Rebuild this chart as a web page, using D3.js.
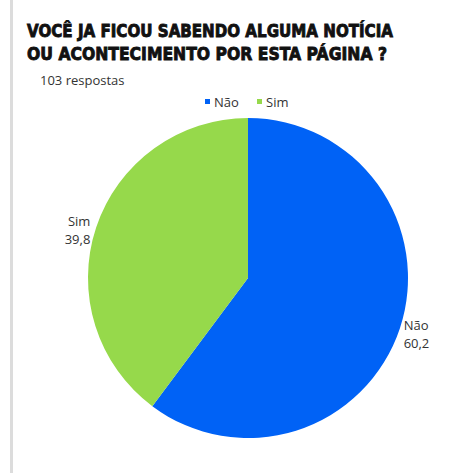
<!DOCTYPE html>
<html><head><meta charset="utf-8">
<script src="https://cdn.jsdelivr.net/npm/d3@7"></script>
<style>body{margin:0;background:#fff}svg{display:block}</style>
</head><body>
<script>
const categories = ["Não", "Sim"];
const values = [60.2, 39.8];
const labels = ["60,2", "39,8"];
const colors = ["#0062f6", "#96d94b"];
const titleLines = ["VOCÊ JA FICOU SABENDO ALGUMA NOTÍCIA", "OU ACONTECIMENTO POR ESTA PÁGINA ?"];
const subtitle = "103 respostas";

const W = 474, H = 473;
const svg = d3.select("body").append("svg").attr("width", W).attr("height", H);
svg.append("rect").attr("x", 10).attr("y", 0).attr("width", 3).attr("height", H).attr("fill", "#dcdcdc");

svg.selectAll("text.title").data(titleLines).join("text")
  .attr("x", 27).attr("y", (d, i) => 37 + i * 23)
  .attr("font-family", "'DejaVu Sans', sans-serif").attr("font-weight", 900)
  .attr("font-size", 17.5).attr("textLength", (d, i) => i ? 360 : 366).attr("lengthAdjust", "spacingAndGlyphs")
  .attr("fill", "#111").attr("stroke", "#111").attr("stroke-width", 0.9).text(d => d);

svg.append("text").attr("x", 40).attr("y", 85).attr("font-family", "'Open Sans', sans-serif")
  .attr("font-size", 13).attr("fill", "#333").text(subtitle);

const cx = 248, cy = 278, r = 160;
const pie = d3.pie().sort(null).value(d => d)(values);
const arc = d3.arc().innerRadius(0).outerRadius(r);
const g = svg.append("g").attr("transform", `translate(${cx},${cy})`);
g.selectAll("path").data(pie).join("path").attr("d", arc).attr("fill", (d, i) => colors[i]);

// legend
const leg = svg.append("g").attr("font-family", "'Open Sans', sans-serif").attr("font-size", 13).attr("fill", "#333");
const legX = [205, 257];
categories.forEach((c, i) => {
  leg.append("rect").attr("x", legX[i]).attr("y", 99).attr("width", 5).attr("height", 5).attr("fill", colors[i]);
  leg.append("text").attr("x", legX[i] + 9).attr("y", 107).text(c);
});

// slice labels
const lab = svg.append("g").attr("font-family", "'Open Sans', sans-serif").attr("font-size", 13).attr("fill", "#333");
pie.forEach((d, i) => {
  const mid = (d.startAngle + d.endAngle) / 2;
  const right = Math.sin(mid) > 0;
  const x = cx + Math.sin(mid) * (r + 4) + (right ? 0 : -2), y = cy - Math.cos(mid) * (r + 4);
  const t = lab.append("text").attr("text-anchor", right ? "start" : "end").attr("x", x).attr("y", y);
  t.append("tspan").attr("x", x).attr("dy", 0).text(categories[i]);
  t.append("tspan").attr("x", x).attr("dy", 18).text(labels[i]);
});
</script>
</body></html>
